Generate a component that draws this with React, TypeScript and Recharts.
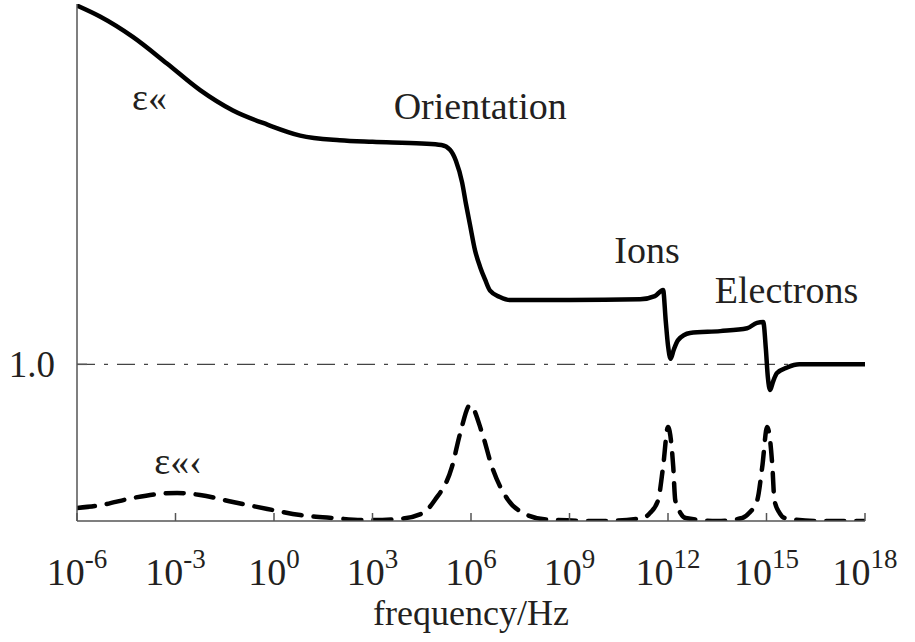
import React from 'react';
import { LineChart, Line, XAxis, YAxis, ReferenceLine, ReferenceDot } from 'recharts';

// frequency as log10(f/Hz), permittivity in arbitrary units (1.0 marked)
const realPermittivity: [number, number][] = [
  [-6, 3.29], [-5.3, 3.22], [-4.3, 3.09], [-3.26, 2.92], [-2.25, 2.75], [-1.25, 2.62],
  [-0.2, 2.53], [0.8, 2.46], [2, 2.43], [3, 2.42], [4.5, 2.41], [5.1, 2.4],
  [5.36, 2.37], [5.54, 2.3], [5.73, 2.16], [5.85, 2.02], [5.97, 1.89], [6.12, 1.73],
  [6.28, 1.62], [6.43, 1.54], [6.58, 1.47], [6.88, 1.43], [7.2, 1.41], [9, 1.41],
  [11.15, 1.415], [11.6, 1.435], [11.85, 1.475], [11.93, 1.28], [12.0, 1.12], [12.08, 1.035],
  [12.17, 1.09], [12.31, 1.155], [12.67, 1.2], [13.59, 1.212], [14.41, 1.23], [14.71, 1.265],
  [14.9, 1.27], [14.98, 1.1], [15.04, 0.92], [15.11, 0.836], [15.2, 0.89], [15.32, 0.944],
  [15.63, 0.98], [16.0, 1.0], [18, 1.0],
];

const lossPermittivity: [number, number][] = [
  [-6, 0.083], [-5.3, 0.1], [-4.3, 0.147], [-3.56, 0.172], [-2.95, 0.179], [-2.25, 0.166],
  [-1.25, 0.121], [-0.2, 0.077], [0.8, 0.038], [1.8, 0.019], [2.8, 0.006], [3.8, 0.013],
  [4.54, 0.051], [4.9, 0.134], [5.42, 0.345], [5.67, 0.56], [5.97, 0.74], [6.34, 0.56],
  [6.64, 0.345], [7.13, 0.134], [7.59, 0.051], [8.3, 0.01], [9.9, 0], [11.24, 0.019],
  [11.45, 0.051], [11.7, 0.134], [11.85, 0.345], [12.0, 0.6], [12.16, 0.345], [12.22, 0.134],
  [12.38, 0.051], [12.54, 0.019], [13.5, 0], [14.26, 0.019], [14.47, 0.051], [14.72, 0.134],
  [14.87, 0.345], [15.02, 0.6], [15.18, 0.345], [15.24, 0.134], [15.4, 0.051], [15.56, 0.019],
  [16.5, 0], [18, 0],
];

const decadeTicks = [-6, -3, 0, 3, 6, 9, 12, 15, 18];
const yTicks = [1.0];

const annotations = [
  { text: 'ε«', x: -3.79, y: 2.71 },
  { text: 'Orientation', x: 6.28, y: 2.655 },
  { text: 'Ions', x: 11.36, y: 1.736 },
  { text: 'Electrons', x: 15.61, y: 1.48 },
  { text: 'ε«‹', x: -2.92, y: 0.389 },
];

const realData = realPermittivity.map(([x, v]) => ({ x, v }));
const lossData = lossPermittivity.map(([x, v]) => ({ x, v }));

const FONT = '"Liberation Serif", "Times New Roman", serif';
const INK = '#231f20';
const AXIS = '#555';

const BottomTick = (props: any) => {
  const { x, y, payload } = props;
  return (
    <g>
      <line x1={x} x2={x} y1={y} y2={y - 8} stroke={AXIS} strokeWidth={1.5} />
      <text x={x} y={y + 64} textAnchor="middle" fontSize={38} fill={INK}>
        <tspan>10</tspan>
        <tspan dy={-17} fontSize={27}>{payload.value}</tspan>
      </text>
    </g>
  );
};

const TopTick = (props: any) => {
  const { x, y } = props;
  return <line x1={x} x2={x} y1={y} y2={y + 8} stroke={AXIS} strokeWidth={1.5} />;
};

const LeftTick = (props: any) => {
  const { x, y, payload } = props;
  return (
    <g>
      <line x1={x + 22} x2={x + 32} y1={y} y2={y} stroke={AXIS} strokeWidth={1.5} />
      <text x={x} y={y + 13} textAnchor="end" fontSize={37} fill={INK}>
        {payload.value.toFixed(1)}
      </text>
    </g>
  );
};

export default function App() {
  return (
    <div className="chart" style={{ position: 'absolute', left: 0, top: 0, background: '#fff' }}>
      <style>{`.chart text { font-family: ${FONT} !important; }`}</style>
      <LineChart width={915} height={642} margin={{ top: 4, right: 50, bottom: 0, left: 0 }}>
        <XAxis
          dataKey="x"
          type="number"
          domain={[-6, 18]}
          ticks={decadeTicks}
          allowDataOverflow
          height={121}
          tickSize={0}
          tickMargin={0}
          tick={<BottomTick />}
          axisLine={{ stroke: AXIS, strokeWidth: 1.5 }}
          label={{ value: 'frequency/Hz', position: 'insideBottom', offset: 17, fontSize: 36, fill: INK }}
        />
        <XAxis
          xAxisId="top"
          dataKey="x"
          type="number"
          orientation="top"
          domain={[-6, 18]}
          ticks={decadeTicks}
          height={0}
          tickSize={0}
          tickMargin={0}
          tick={<TopTick />}
          axisLine={{ stroke: AXIS, strokeWidth: 1.5 }}
        />
        <YAxis
          type="number"
          domain={[0, 3.3]}
          ticks={yTicks}
          allowDataOverflow
          width={77}
          tickSize={0}
          tickMargin={22}
          tick={<LeftTick />}
          axisLine={{ stroke: AXIS, strokeWidth: 1.5 }}
        />
        <YAxis
          yAxisId="right"
          orientation="right"
          type="number"
          domain={[0, 3.3]}
          width={0}
          tick={false}
          tickLine={false}
          axisLine={{ stroke: '#222', strokeWidth: 1.5 }}
        />
        <ReferenceLine y={1} stroke="#444" strokeWidth={1.2} strokeDasharray="18 9 4 9" />
        <Line
          data={lossData}
          dataKey="v"
          type="monotone"
          stroke="#000"
          strokeWidth={4.5}
          strokeDasharray="18 12"
          strokeLinecap="round"
          dot={false}
          isAnimationActive={false}
        />
        <Line
          data={realData}
          dataKey="v"
          type="monotone"
          stroke="#000"
          strokeWidth={4.5}
          strokeLinecap="round"
          dot={false}
          isAnimationActive={false}
        />
        {annotations.map((a) => (
          <ReferenceDot
            key={a.text}
            x={a.x}
            y={a.y}
            r={0}
            stroke="none"
            fill="none"
            label={{ value: a.text, position: 'center', fontSize: 38, fill: INK }}
          />
        ))}
      </LineChart>
    </div>
  );
}
